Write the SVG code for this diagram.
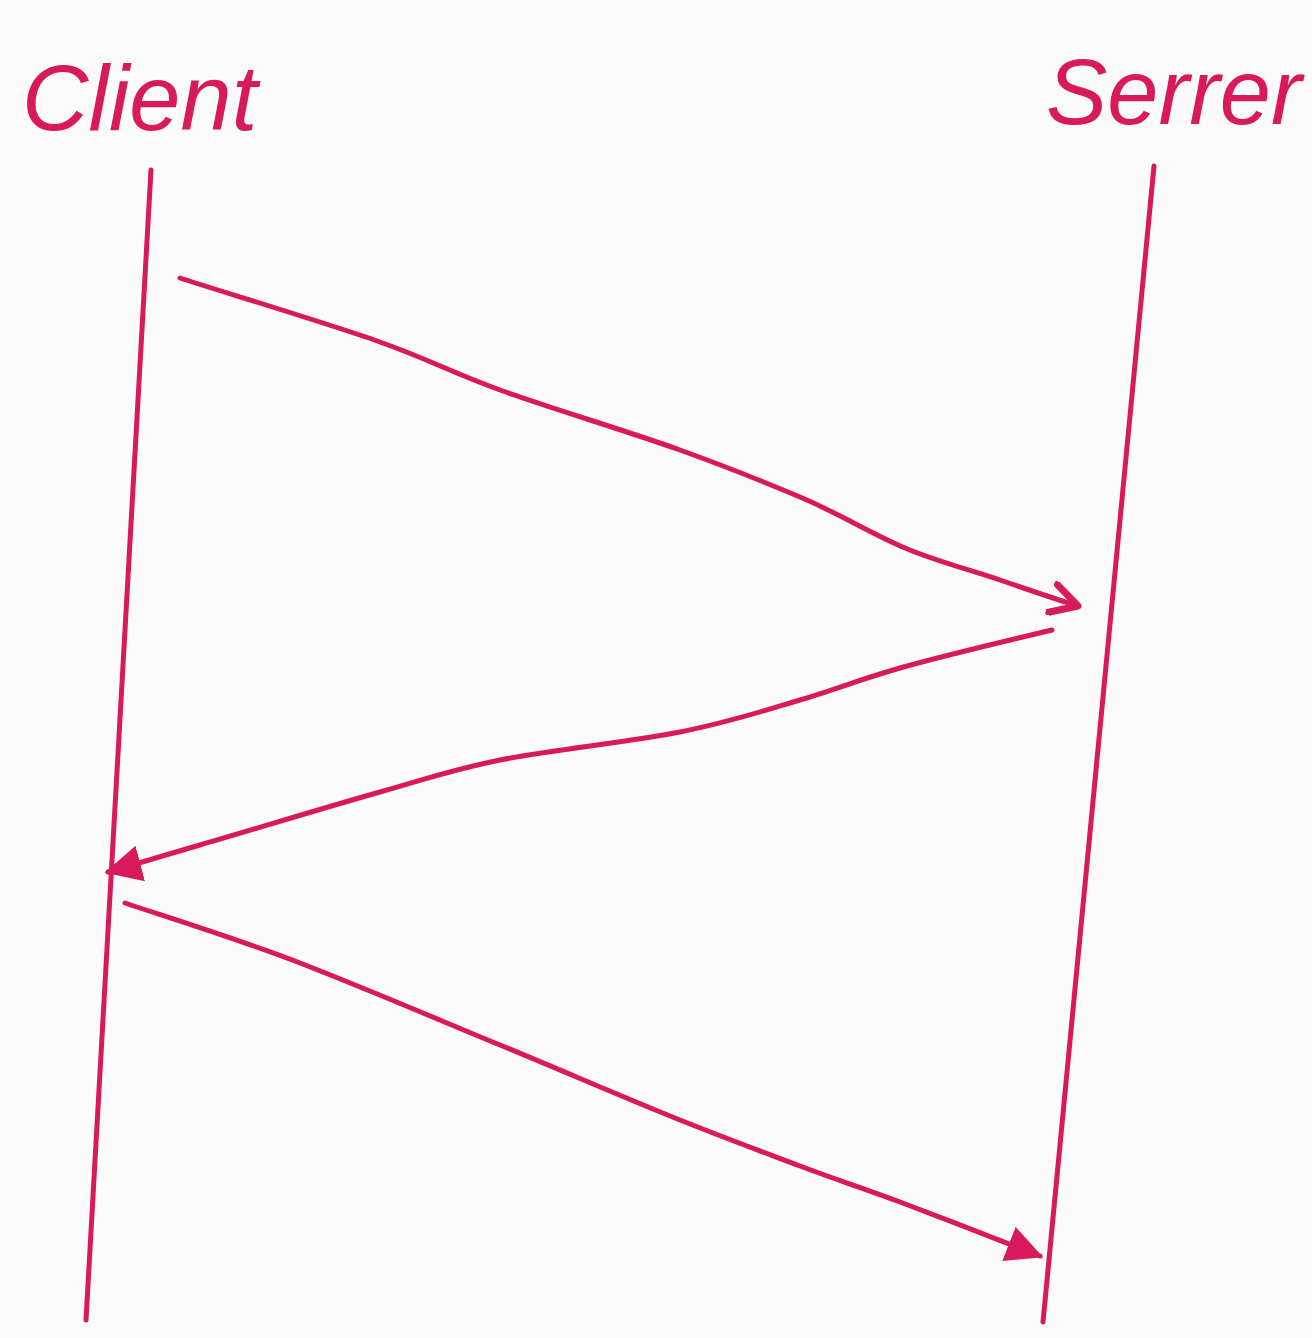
<svg xmlns="http://www.w3.org/2000/svg" width="1312" height="1338" viewBox="0 0 1312 1338">
<style>
.ink{fill:none;stroke:#d81a5c;stroke-width:5;stroke-linecap:round;stroke-linejoin:round}
.label{font-family:"Liberation Sans","DejaVu Sans",sans-serif;font-size:92px;fill:#d81a5c;font-style:italic}
</style>
<defs>
<marker id="open" viewBox="0 0 12 12" refX="10" refY="6" markerWidth="7" markerHeight="7" orient="auto" markerUnits="strokeWidth">
<path d="M1,1 L10,6 L1,11" fill="none" stroke="#d81a5c" stroke-width="2.4" stroke-linecap="round" stroke-linejoin="round"/>
</marker>
<marker id="filled" viewBox="0 0 12 12" refX="10" refY="6" markerWidth="8" markerHeight="8" orient="auto" markerUnits="strokeWidth">
<path d="M0,0.5 L11,6 L0,11.5 Z" fill="#d81a5c"/>
</marker>
</defs>
<rect width="1312" height="1338" fill="#fbfbfb"/>
<g id="client">
<text class="label" x="22" y="130">Client</text>
<path class="ink" d="M151,170 L86,1320"/>
</g>
<g id="server">
<text class="label" x="1046" y="124">Serrer</text>
<path class="ink" d="M1154,166 L1043,1322"/>
</g>
<g id="connectors">
<path class="ink" marker-end="url(#open)" d="M180,278 C213,289 327,323 380,342 C433,361 450,372 500,390 C550,408 630,432 680,450 C730,468 762,481 800,497 C838,513 872,534 905,548 C938,562 971,570 1000,580 C1029,590 1065,602 1078,606"/>
<path class="ink" marker-end="url(#filled)" d="M1052,630 C1027,636 942,656 900,668 C858,680 837,689 800,700 C763,711 730,722 680,732 C630,742 550,750 500,760 C450,770 430,778 380,792 C330,806 245,832 200,845 C155,858 123,868 108,872"/>
<path class="ink" marker-end="url(#filled)" d="M125,903 C154,913 238,939 300,963 C362,987 437,1019 500,1045 C563,1071 630,1100 680,1120 C730,1140 763,1152 800,1166 C837,1180 860,1187 900,1202 C940,1217 1017,1247 1040,1256"/>
</g>
</svg>
